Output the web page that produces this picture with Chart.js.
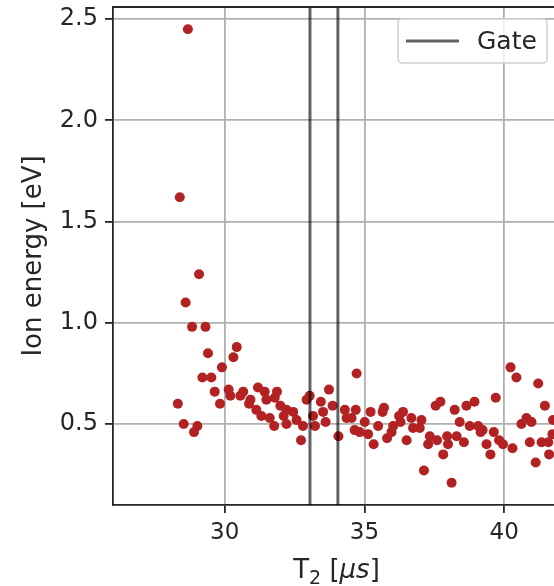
<!DOCTYPE html>
<html>
<head>
<meta charset="utf-8">
<script src="https://cdn.jsdelivr.net/npm/chart.js@4.4.1/dist/chart.umd.min.js"></script>
<style>
  html, body { margin: 0; padding: 0; background: #fff; overflow: hidden; }
  #wrap { width: 600px; height: 586px; }
</style>
</head>
<body>
<div id="wrap"><canvas id="c" width="600" height="586"></canvas></div>
<script>
// ---- data ----
const t2 = [
  28.68, 28.39, 28.60, 29.08, 28.83, 29.31, 29.40, 30.43, 30.31, 29.90,
  29.20, 29.52, 29.64, 30.14, 30.20, 29.83, 28.32, 28.53, 29.02, 28.90,
  30.66, 30.56, 30.92, 30.87, 31.19, 31.43, 31.87, 31.79, 31.49, 31.13,
  31.31, 31.61, 31.77, 31.99, 32.21, 32.11, 32.45, 32.21, 32.57, 32.80,
  32.73, 32.93, 33.04, 33.16, 33.23, 33.44, 33.73, 33.52, 33.61, 33.86,
  34.07, 34.30, 34.36, 34.72, 34.69, 34.65, 34.83, 34.54, 35.01, 35.13,
  35.22, 35.49, 35.33, 35.70, 35.65, 35.81, 35.97, 36.03, 36.24, 36.38,
  36.29, 36.51, 36.68, 36.74, 36.98, 37.04, 37.34, 37.28, 37.55, 37.72,
  37.60, 37.82, 37.96, 37.99, 37.13, 38.12, 38.23, 38.30, 38.56, 38.41,
  38.65, 38.94, 38.77, 39.07, 39.23, 39.16, 39.70, 39.63, 39.37, 39.51,
  39.82, 39.96, 40.30, 40.23, 40.44, 41.22, 41.46, 40.62, 40.80, 40.98,
  40.92, 41.13, 41.34, 41.58, 41.61, 41.73, 41.75
];
const ionEnergy = [
  2.45, 1.62, 1.10, 1.24, 0.98, 0.98, 0.85, 0.88, 0.83, 0.78,
  0.73, 0.73, 0.66, 0.67, 0.64, 0.60, 0.60, 0.50, 0.49, 0.46,
  0.66, 0.64, 0.62, 0.60, 0.68, 0.66, 0.66, 0.63, 0.62, 0.57,
  0.54, 0.53, 0.49, 0.59, 0.57, 0.54, 0.56, 0.50, 0.52, 0.49,
  0.42, 0.62, 0.64, 0.54, 0.49, 0.61, 0.67, 0.56, 0.51, 0.59,
  0.44, 0.57, 0.53, 0.75, 0.57, 0.47, 0.46, 0.53, 0.51, 0.45,
  0.56, 0.49, 0.40, 0.58, 0.56, 0.43, 0.46, 0.49, 0.54, 0.56,
  0.51, 0.42, 0.53, 0.48, 0.48, 0.52, 0.44, 0.40, 0.59, 0.61,
  0.42, 0.35, 0.44, 0.40, 0.27, 0.21, 0.57, 0.44, 0.41, 0.51,
  0.59, 0.61, 0.49, 0.49, 0.47, 0.46, 0.63, 0.46, 0.40, 0.35,
  0.42, 0.40, 0.38, 0.78, 0.73, 0.70, 0.59, 0.50, 0.53, 0.51,
  0.41, 0.31, 0.41, 0.41, 0.35, 0.45, 0.52
];
const gateT2 = [33.05, 34.05];
const xTicks = [30, 35, 40];
const yTicks = [0.5, 1.0, 1.5, 2.0, 2.5];
const xLimits = [26, 42];
const yLimits = [0.1, 2.56];

// ---- styling ----
const FONT = 'DejaVu Sans';
const TICK_FS = 23;
const YTICK_FS = 24;
const TITLE_FS = 26;
const LEG_FS = 25;
const RED = '#b22222';
const GATE = 'rgba(0,0,0,0.62)';
const INK = '#262626';

const scatterPts = t2.map((x, i) => ({ x: x, y: ionEnergy[i] }));
const gateSets = gateT2.map((g, i) => ({
  type: 'line',
  label: i === 0 ? 'Gate' : '',
  data: [{ x: g, y: yLimits[0] }, { x: g, y: yLimits[1] }],
  borderColor: GATE,
  borderWidth: 3,
  pointRadius: 0,
  fill: false,
  order: 0
}));

const framePlugin = {
  id: 'frame',
  afterDatasetsDraw(chart) {
    const a = chart.chartArea, ctx = chart.ctx;
    ctx.save();
    ctx.strokeStyle = INK;
    ctx.lineWidth = 1.8;
    ctx.beginPath();
    ctx.moveTo(a.left, a.top);
    ctx.lineTo(a.right, a.top);
    ctx.lineTo(a.right, a.bottom);
    ctx.stroke();
    ctx.restore();
  },
  afterDraw(chart) {
    const a = chart.chartArea, ctx = chart.ctx;
    ctx.save();
    // legend box (inside axes, upper right)
    const w = 149, h = 44;
    const x0 = a.right - 13 - w, y0 = a.top + 12;
    ctx.beginPath();
    ctx.roundRect(x0, y0, w, h, 4);
    ctx.fillStyle = 'rgba(255,255,255,0.8)';
    ctx.fill();
    ctx.strokeStyle = '#d2d2d2';
    ctx.lineWidth = 1.6;
    ctx.stroke();
    const cy = y0 + h / 2;
    ctx.beginPath();
    ctx.moveTo(x0 + 8, cy);
    ctx.lineTo(x0 + 61, cy);
    ctx.strokeStyle = GATE;
    ctx.lineWidth = 3;
    ctx.stroke();
    ctx.fillStyle = INK;
    ctx.font = LEG_FS + 'px "' + FONT + '"';
    ctx.textBaseline = 'middle';
    ctx.textAlign = 'left';
    ctx.fillText(chart.data.datasets[1].label, x0 + 79, cy + 1);

    // x-axis title, mathtext style: T_2 [\mu s]
    const parts = [
      { t: 'T', f: TITLE_FS + 'px "' + FONT + '"', dy: 0 },
      { t: '2', f: Math.round(TITLE_FS * 0.72) + 'px "' + FONT + '"', dy: 6 },
      { t: ' [', f: TITLE_FS + 'px "' + FONT + '"', dy: 0 },
      { t: '\u03bcs', f: 'italic ' + TITLE_FS + 'px "' + FONT + '"', dy: 0 },
      { t: ']', f: TITLE_FS + 'px "' + FONT + '"', dy: 0 }
    ];
    let total = 0;
    parts.forEach(p => { ctx.font = p.f; p.w = ctx.measureText(p.t).width; total += p.w; });
    let px = (a.left + a.right) / 2 - total / 2;
    const baseY = 578;
    ctx.textBaseline = 'alphabetic';
    parts.forEach(p => { ctx.font = p.f; ctx.fillText(p.t, px, baseY + p.dy); px += p.w; });
    ctx.restore();
  }
};

new Chart(document.getElementById('c'), {
  type: 'scatter',
  data: {
    datasets: [
      {
        label: 'Ion energy',
        data: scatterPts,
        backgroundColor: RED,
        borderColor: RED,
        borderWidth: 0,
        pointRadius: 5,
        pointHoverRadius: 5,
        order: 1
      },
      ...gateSets
    ]
  },
  options: {
    responsive: false,
    animation: false,
    devicePixelRatio: 1,
    layout: { padding: { left: 0, top: 7, right: 40, bottom: 0 } },
    plugins: { legend: { display: false }, tooltip: { enabled: false } },
    scales: {
      x: {
        type: 'linear',
        min: xLimits[0], max: xLimits[1],
        afterBuildTicks(s) { s.ticks = xTicks.map(v => ({ value: v })); },
        afterFit(s) { s.height = 81; s.paddingLeft = 0; s.paddingRight = 0; },
        ticks: {
          color: INK, padding: 6, maxRotation: 0,
          font: { family: FONT, size: TICK_FS },
          callback: v => String(v)
        },
        grid: { color: '#b0b0b0', lineWidth: 1.8, tickColor: INK, tickWidth: 1.8, tickLength: 8 },
        border: { color: INK, width: 1.8 },
        title: { display: false }
      },
      y: {
        type: 'linear',
        min: yLimits[0], max: yLimits[1],
        afterBuildTicks(s) { s.ticks = yTicks.map(v => ({ value: v })); },
        afterFit(s) { s.width = 113; s.paddingTop = 0; s.paddingBottom = 0; },
        ticks: {
          color: INK, padding: 7,
          font: { family: FONT, size: YTICK_FS },
          callback: v => Number(v).toFixed(1)
        },
        grid: { color: '#b0b0b0', lineWidth: 1.8, tickColor: INK, tickWidth: 1.8, tickLength: 8 },
        border: { color: INK, width: 1.8 },
        title: {
          display: true, text: 'Ion energy [eV]', color: INK,
          font: { family: FONT, size: TITLE_FS, lineHeight: 1.2 },
          padding: { top: 19, bottom: 0 }
        }
      }
    }
  },
  plugins: [framePlugin]
});
</script>
</body>
</html>
